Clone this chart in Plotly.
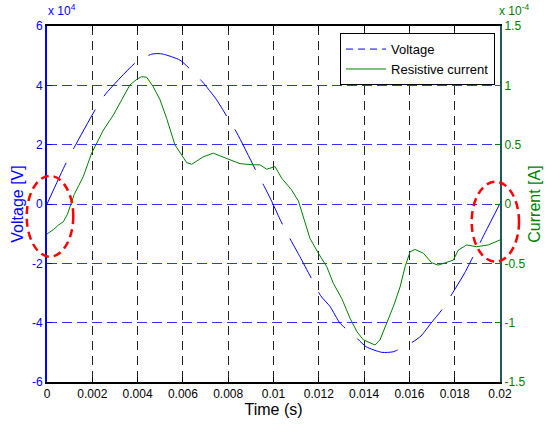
import plotly.graph_objects as go

# Voltage (V) vs time (s)
t_volt = [0, 0.00087, 0.00124, 0.00219, 0.00259, 0.00396, 0.00462, 0.0049, 0.00514, 0.00587,
          0.00639, 0.00686, 0.00749, 0.00801, 0.00838, 0.00926, 0.0096, 0.00989, 0.01029, 0.01046,
          0.0108, 0.01117, 0.01173, 0.01208, 0.0125, 0.01294, 0.01353, 0.01409, 0.01478, 0.01529,
          0.016, 0.01651, 0.01695, 0.01743, 0.01806, 0.01845, 0.01934, 0.02]
voltage = [0, 14300, 19600, 32600, 37100, 48000, 50500, 50700, 50500, 48500,
           44900, 41200, 35100, 28600, 24000, 10700, 5800, 1400, -5200, -7800,
           -12700, -17800, -25900, -30900, -34600, -40200, -44100, -48100, -50000, -49800,
           -47200, -44500, -40200, -35700, -28100, -23100, -9700, 200]

# Resistive current (in units of 1e-4 A) vs time (s)
t_curr = [0, 0.0003, 0.0005, 0.00072, 0.0009, 0.00105, 0.0012, 0.0014, 0.0016, 0.00197,
          0.00219, 0.00249, 0.00293, 0.0033, 0.00366, 0.00396, 0.00418, 0.0044, 0.00469, 0.00499,
          0.00528, 0.00565, 0.00595, 0.00617, 0.00639, 0.0069, 0.00734, 0.00793, 0.00852, 0.00911,
          0.0094, 0.0097, 0.01007, 0.01036, 0.0108, 0.0111, 0.01132, 0.01161, 0.01198, 0.01235,
          0.01264, 0.01301, 0.01338, 0.01368, 0.01397, 0.01426, 0.01448, 0.0147, 0.015, 0.01529,
          0.01559, 0.01581, 0.01603, 0.01625, 0.01662, 0.01698, 0.01727, 0.01772, 0.01794, 0.01816,
          0.01853, 0.01897, 0.01948, 0.02]
current_e4 = [-0.253, -0.213, -0.178, -0.150, -0.088, 0.000, 0.080, 0.155, 0.230, 0.428,
              0.513, 0.623, 0.750, 0.878, 1.003, 1.050, 1.073, 1.068, 0.988, 0.878,
              0.723, 0.498, 0.413, 0.348, 0.335, 0.398, 0.428, 0.385, 0.340, 0.330,
              0.330, 0.293, 0.315, 0.218, 0.118, 0.025, -0.108, -0.290, -0.415, -0.528,
              -0.668, -0.795, -0.963, -1.075, -1.145, -1.173, -1.188, -1.145, -1.005, -0.865,
              -0.698, -0.528, -0.403, -0.383, -0.415, -0.495, -0.515, -0.485, -0.473, -0.388,
              -0.345, -0.360, -0.345, -0.303]
current = [c * 1e-4 for c in current_e4]

x_ticks = [0, 0.002, 0.004, 0.006, 0.008, 0.01, 0.012, 0.014, 0.016, 0.018, 0.02]
x_tick_labels = ["0", "0.002", "0.004", "0.006", "0.008", "0.01", "0.012", "0.014", "0.016", "0.018", "0.02"]
v_ticks = [-60000, -40000, -20000, 0, 20000, 40000, 60000]
v_tick_labels = ["-6", "-4", "-2", "0", "2", "4", "6"]
c_ticks = [-1.5e-4, -1e-4, -0.5e-4, 0, 0.5e-4, 1e-4, 1.5e-4]
c_tick_labels = ["-1.5", "-1", "-0.5", "0", "0.5", "1", "1.5"]

FONT = "Liberation Sans, Arial, sans-serif"
BLUE = "#0000ff"
GREEN = "#008000"

fig = go.Figure()
fig.add_trace(go.Scatter(x=t_volt, y=voltage, mode="lines", name="Voltage",
                         line=dict(color=BLUE, width=1, dash="45px,16px", shape="spline", smoothing=0.6),
                         showlegend=False))
fig.add_trace(go.Scatter(x=[None], y=[None], mode="lines", name="Voltage",
                         line=dict(color=BLUE, width=1, dash="7px,5px")))
fig.add_trace(go.Scatter(x=t_curr, y=current, mode="lines", name="Resistive current",
                         line=dict(color=GREEN, width=1), yaxis="y2"))

fig.update_layout(
    width=546, height=425,
    margin=dict(l=47, r=46, t=26, b=43),
    paper_bgcolor="white", plot_bgcolor="white",
    font=dict(family=FONT, size=12, color="black"),
    xaxis=dict(range=[0, 0.02], tickvals=x_ticks, ticktext=x_tick_labels, automargin=False,
               showgrid=True, gridcolor="#222222", griddash="9px,6px", gridwidth=1.2,
               zeroline=False, showline=True, linecolor="black", linewidth=1.5, mirror="ticks",
               ticks="inside", ticklen=5, tickcolor="black",
               tickfont=dict(size=12, color="black"),
               title=dict(text="Time (s)", font=dict(size=16, color="black"), standoff=4)),
    yaxis=dict(range=[-60000, 60000], tickvals=v_ticks, ticktext=v_tick_labels, automargin=False,
               showgrid=True, gridcolor="#3333ff", griddash="10px,5px", gridwidth=1.2,
               zeroline=False, showline=True, linecolor=BLUE, linewidth=2,
               ticks="inside", ticklen=5, tickcolor=BLUE,
               tickfont=dict(size=12, color=BLUE),
               title=dict(text="Voltage [V]", font=dict(size=16, color=BLUE), standoff=4)),
    yaxis2=dict(range=[-1.5e-4, 1.5e-4], tickvals=c_ticks, ticktext=c_tick_labels, automargin=False,
                overlaying="y", side="right", showgrid=False, zeroline=False,
                showline=True, linecolor="#1f5a5a", linewidth=2,
                ticks="inside", ticklen=5, tickcolor=GREEN,
                tickfont=dict(size=12, color=GREEN),
                title=dict(text="Current [A]", font=dict(size=16, color=GREEN), standoff=4)),
    legend=dict(x=0.989, y=0.98, xanchor="right", yanchor="top",
                bgcolor="white", bordercolor="black", borderwidth=1,
                font=dict(size=13, color="black"), tracegroupgap=0, itemwidth=40),
    annotations=[
        dict(text="x 10<sup>4</sup>", xref="paper", yref="paper", x=0.0, y=1.02,
             xanchor="left", yanchor="bottom", showarrow=False, borderpad=0,
             font=dict(size=12, color=BLUE, family=FONT)),
        dict(text="x 10<sup>-4</sup>", xref="paper", yref="paper", x=0.995, y=1.02,
             xanchor="left", yanchor="bottom", showarrow=False, borderpad=0,
             font=dict(size=12, color=GREEN, family=FONT)),
    ],
    shapes=[
        dict(type="circle", xref="paper", yref="paper", x0=-0.0448, x1=0.058, y0=0.352, y1=0.579,
             line=dict(color="red", width=2.5, dash="8px,5px")),
        dict(type="circle", xref="paper", yref="paper", x0=0.9375, x1=1.042, y0=0.338, y1=0.5626,
             line=dict(color="red", width=2.5, dash="8px,5px")),
    ],
)

fig.write_html("out.html")
